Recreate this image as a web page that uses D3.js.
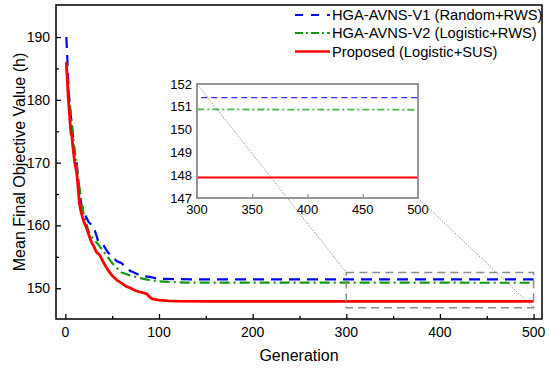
<!DOCTYPE html>
<html>
<head>
<meta charset="utf-8">
<script src="https://cdn.jsdelivr.net/npm/d3@7"></script>
<style>
	body { margin: 0; background: #fff; }
	svg text { font-family: "Liberation Sans", Arial, sans-serif; fill: #000; }
</style>
</head>
<body>
<svg id="chart" width="550" height="369"></svg>
<script>

// generations + values
var genV1 = [1, 2, 3, 4, 5, 7, 8, 10, 12, 15, 17, 20, 25, 30, 33, 35, 40, 45, 50, 55, 60, 65, 70, 75, 80, 90, 100, 120, 150, 500];
var valV1 = [190.0, 187.0, 183.0, 180.5, 178.5, 176.0, 174.5, 171.0, 170.0, 165.5, 163.5, 162.0, 160.5, 159.8, 158.5, 157.5, 157.0, 155.8, 155.0, 154.3, 154.0, 153.2, 152.7, 152.4, 152.0, 151.8, 151.5, 151.45, 151.4, 151.4];

var genV2 = [1, 2, 3, 5, 7, 9, 11, 13, 15, 18, 20, 25, 30, 35, 40, 45, 50, 55, 60, 70, 80, 90, 100, 110, 130, 500];
var valV2 = [185.5, 184.0, 182.0, 179.0, 176.0, 173.0, 171.0, 168.5, 166.0, 163.0, 161.5, 159.0, 157.8, 157.0, 156.0, 155.0, 154.0, 153.2, 152.5, 152.0, 151.6, 151.3, 151.1, 151.0, 150.9, 150.87];

var genProp = [1, 2, 3, 4, 5, 6, 7, 8, 10, 12, 13, 15, 17, 20, 23, 25, 28, 30, 33, 37, 40, 45, 50, 55, 60, 65, 70, 75, 80, 87, 90, 93, 100, 110, 120, 150, 500];
var valProp = [186.0, 183.5, 180.5, 178.5, 176.5, 174.6, 174.2, 172.5, 170.0, 168.5, 167.0, 163.5, 162.0, 160.5, 159.5, 158.5, 157.3, 156.8, 155.8, 155.2, 154.3, 153.0, 152.0, 151.3, 150.8, 150.3, 150.0, 149.6, 149.4, 149.1, 148.6, 148.3, 148.1, 148.0, 147.95, 147.9, 147.9];

var seriesNames = ["HGA-AVNS-V1 (Random+RWS)", "HGA-AVNS-V2 (Logistic+RWS)", "Proposed (Logistic+SUS)"];

var xTicks = [0, 100, 200, 300, 400, 500];
var xMinor = [50, 150, 250, 350, 450];
var yTicks = [150, 160, 170, 180, 190];
var yMinor = [155, 165, 175, 185];

var insetXTicks = [300, 350, 400, 450, 500];
var insetYTicks = [147, 148, 149, 150, 151, 152];
var zoomBox = { x0: 300, x1: 500, y0: 146.9, y1: 152.5 };

var svg = d3.select("#chart");

var m = { left: 56, right: 542, top: 5, bottom: 319 };

var x = d3.scaleLinear().domain([-10, 509]).range([m.left, m.right]);
var y = d3.scaleLinear().domain([145.1, 195.1]).range([m.bottom, m.top]);

var styles = [
	{ color: "#0000ff", dash: "11,7", width: 2.2, insetDash: "6,4", insetWidth: 1.2, insetColor: "#3030ff" },
	{ color: "#109a10", dash: "10,4,2,4", width: 2.2, insetDash: "7,3,2,3", insetWidth: 1.8, insetColor: "#4db84d" },
	{ color: "#ff0000", dash: null, width: 2.8, insetDash: null, insetWidth: 2.2 }
];

function toPoints(gens, vals){
	return gens.map(function(g, i){ return [g, vals[i]]; });
}
var data = [toPoints(genV1, valV1), toPoints(genV2, valV2), toPoints(genProp, valProp)];

svg.append("clipPath").attr("id", "mainClip")
	.append("rect").attr("x", m.left).attr("y", m.top)
	.attr("width", m.right - m.left).attr("height", m.bottom - m.top);

var line = d3.line().x(function(d){ return x(d[0]); }).y(function(d){ return y(d[1]); });

var curves = svg.append("g").attr("clip-path", "url(#mainClip)");
data.forEach(function(pts, i){
	curves.append("path")
		.attr("d", line(pts))
		.attr("fill", "none")
		.attr("stroke", styles[i].color)
		.attr("stroke-width", styles[i].width)
		.attr("stroke-dasharray", styles[i].dash)
		.attr("stroke-linejoin", "round");
});

// zoom rectangle on the main plot
svg.append("rect")
	.attr("x", x(zoomBox.x0)).attr("y", y(zoomBox.y1))
	.attr("width", x(zoomBox.x1) - x(zoomBox.x0))
	.attr("height", y(zoomBox.y0) - y(zoomBox.y1))
	.attr("fill", "none").attr("stroke", "#8c8c8c")
	.attr("stroke-width", 1.5).attr("stroke-dasharray", "8,5");

// axes (ticks point inward)
var gx = svg.append("g").attr("transform", "translate(0," + m.bottom + ")")
	.call(d3.axisTop(x).tickValues(xTicks).tickSize(5).tickFormat(""));
var gxm = svg.append("g").attr("transform", "translate(0," + m.bottom + ")")
	.call(d3.axisTop(x).tickValues(xMinor).tickSize(3).tickFormat(""));
var gy = svg.append("g").attr("transform", "translate(" + m.left + ",0)")
	.call(d3.axisRight(y).tickValues(yTicks).tickSize(5).tickFormat(""));
var gym = svg.append("g").attr("transform", "translate(" + m.left + ",0)")
	.call(d3.axisRight(y).tickValues(yMinor).tickSize(3).tickFormat(""));
[gx, gxm, gy, gym].forEach(function(g){
	g.select(".domain").remove();
	g.selectAll("line").attr("stroke", "#000").attr("stroke-width", 1.3);
});

svg.selectAll(".xlab").data(xTicks).enter().append("text")
	.attr("x", function(d){ return x(d); }).attr("y", 337)
	.attr("text-anchor", "middle").attr("font-size", 14)
	.text(function(d){ return d; });
svg.selectAll(".ylab").data(yTicks).enter().append("text")
	.attr("x", 50).attr("y", function(d){ return y(d) + 5; })
	.attr("text-anchor", "end").attr("font-size", 14)
	.text(function(d){ return d; });

svg.append("rect")
	.attr("x", m.left).attr("y", m.top)
	.attr("width", m.right - m.left).attr("height", m.bottom - m.top)
	.attr("fill", "none").attr("stroke", "#000").attr("stroke-width", 1.5);

svg.append("text").attr("x", (m.left + m.right) / 2).attr("y", 361)
	.attr("text-anchor", "middle").attr("font-size", 16).text("Generation");
svg.append("text")
	.attr("transform", "translate(25," + ((m.top + m.bottom) / 2) + ") rotate(-90)")
	.attr("text-anchor", "middle").attr("font-size", 16)
	.text("Mean Final Objective Value (h)");

// legend
var legend = svg.append("g");
[15, 33, 51.5].forEach(function(ly, i){
	legend.append("line")
		.attr("x1", 295).attr("x2", 330).attr("y1", ly).attr("y2", ly)
		.attr("stroke", styles[i].color)
		.attr("stroke-width", i == 2 ? 2.6 : 1.8)
		.attr("stroke-dasharray", i == 0 ? "8,8" : (i == 1 ? "8,3,2,3" : null));
	legend.append("text").attr("x", 332).attr("y", ly + 5)
		.attr("font-size", 14.7).text(seriesNames[i]);
});

// inset
var inset = { left: 197, right: 418, top: 84, bottom: 198 };
var ix = d3.scaleLinear().domain([300, 500]).range([inset.left, inset.right]);
var iy = d3.scaleLinear().domain([147, 152]).range([inset.bottom, inset.top]);

svg.append("rect")
	.attr("x", inset.left).attr("y", inset.top)
	.attr("width", inset.right - inset.left).attr("height", inset.bottom - inset.top)
	.attr("fill", "#fff");

svg.append("clipPath").attr("id", "insetClip")
	.append("rect").attr("x", inset.left).attr("y", inset.top)
	.attr("width", inset.right - inset.left).attr("height", inset.bottom - inset.top);

var iline = d3.line().x(function(d){ return ix(d[0]); }).y(function(d){ return iy(d[1]); });
var icurves = svg.append("g").attr("clip-path", "url(#insetClip)");
data.forEach(function(pts, i){
	icurves.append("path")
		.attr("d", iline(pts))
		.attr("fill", "none")
		.attr("stroke", styles[i].insetColor || styles[i].color)
		.attr("stroke-width", styles[i].insetWidth)
		.attr("stroke-dasharray", styles[i].insetDash);
});

var igx = svg.append("g").attr("transform", "translate(0," + inset.bottom + ")")
	.call(d3.axisTop(ix).tickValues(insetXTicks.slice(1, 4)).tickSize(4).tickFormat(""));
igx.select(".domain").remove();
igx.selectAll("line").attr("stroke", "#8c8c8c").attr("stroke-width", 1.2);

svg.append("rect")
	.attr("x", inset.left).attr("y", inset.top)
	.attr("width", inset.right - inset.left).attr("height", inset.bottom - inset.top)
	.attr("fill", "none").attr("stroke", "#8c8c8c").attr("stroke-width", 1.8);

svg.selectAll(".ixlab").data(insetXTicks).enter().append("text")
	.attr("x", function(d){ return ix(d); }).attr("y", 214)
	.attr("text-anchor", "middle").attr("font-size", 13)
	.text(function(d){ return d; });
svg.selectAll(".iylab").data(insetYTicks).enter().append("text")
	.attr("x", 192).attr("y", function(d){ return iy(d) + 4.5; })
	.attr("text-anchor", "end").attr("font-size", 13)
	.text(function(d){ return d; });

// dotted connectors between inset and zoom box
var connectors = [
	[[ix(300), iy(152)], [x(zoomBox.x0), y(zoomBox.y1)]],
	[[ix(500), iy(147)], [x(zoomBox.x1), y(zoomBox.y0)]]
];
connectors.forEach(function(c){
	svg.append("line")
		.attr("x1", c[0][0]).attr("y1", c[0][1])
		.attr("x2", c[1][0]).attr("y2", c[1][1])
		.attr("stroke", "#777").attr("stroke-width", 0.8)
		.attr("stroke-dasharray", "1.5,1.5");
});

</script>
</body>
</html>
